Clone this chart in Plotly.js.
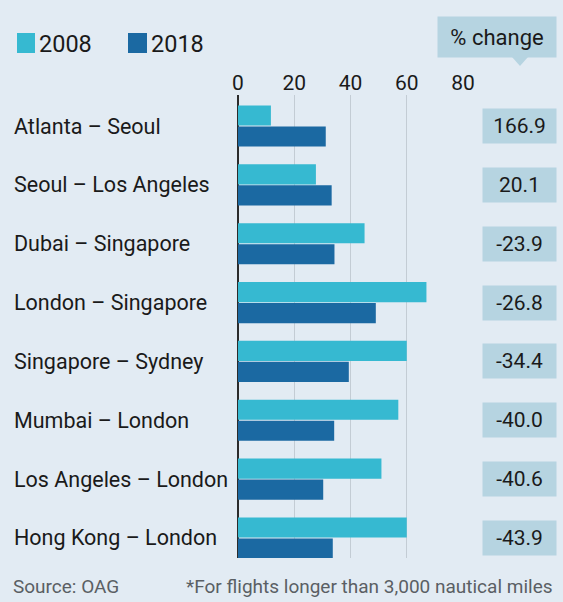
<!DOCTYPE html>
<html>
<head>
<meta charset="utf-8">
<script src="https://cdn.plot.ly/plotly-3.0.1.min.js"></script>
<style>html,body{margin:0;padding:0;background:#e2ebf3;}#chart{width:563px;height:602px;}</style>
</head>
<body>
<div id="chart"></div>
<script>
// ---- data ----
var routes = ["Atlanta – Seoul", "Seoul – Los Angeles", "Dubai – Singapore", "London – Singapore",
              "Singapore – Sydney", "Mumbai – London", "Los Angeles – London", "Hong Kong – London"];
var seats2008 = [11.7, 27.7, 45.0, 67.0, 60.0, 57.0, 51.0, 60.0];
var seats2018 = [31.2, 33.3, 34.3, 49.0, 39.4, 34.2, 30.3, 33.7];
var pctChange = ["166.9", "20.1", "-23.9", "-26.8", "-34.4", "-40.0", "-40.6", "-43.9"];
var seriesNames = ["2008", "2018"];
var xTicks = [0, 20, 40, 60, 80];
var pctTitle = "% change";
var sourceText = "Source: OAG";
var noteText = "*For flights longer than 3,000 nautical miles";

// ---- style ----
var W = 563, H = 602;
var FONT = "Roboto, sans-serif";
var c2008 = "#36b9d1", c2018 = "#1b69a2", boxC = "#b6d4e1", bg = "#e2ebf3";
function px(x){ return x / W; }
function py(y){ return 1 - y / H; }

var traces = [
  {type: "bar", orientation: "h", name: seriesNames[0], y: routes, x: seats2008,
   marker: {color: c2008}, hoverinfo: "x+name"},
  {type: "bar", orientation: "h", name: seriesNames[1], y: routes, x: seats2018,
   marker: {color: c2018}, hoverinfo: "x+name"}
];

var annotations = [];
routes.forEach(function(r, i){
  annotations.push({xref: "paper", yref: "y", x: px(12), y: r, xanchor: "left", yanchor: "middle",
    text: r, showarrow: false, font: {family: FONT, size: 21.5, color: "#1a1a1a"}});
  annotations.push({xref: "paper", yref: "y", x: px(519.5), y: r, xanchor: "center", yanchor: "middle",
    text: pctChange[i], showarrow: false, width: 73, height: 34, borderpad: 0, bgcolor: boxC,
    font: {family: FONT, size: 21, color: "#1a1a1a"}});
});
// % change header
annotations.push({xref: "paper", yref: "paper", x: px(497), y: py(37), xanchor: "center", yanchor: "middle",
  text: pctTitle, showarrow: false, width: 118, height: 40, borderpad: 0, bgcolor: boxC,
  font: {family: FONT, size: 22, color: "#1a1a1a"}});
// legend labels
annotations.push({xref: "paper", yref: "paper", x: px(37), y: py(44), xanchor: "left", yanchor: "middle",
  text: seriesNames[0], showarrow: false, font: {family: FONT, size: 23.5, color: "#1a1a1a"}});
annotations.push({xref: "paper", yref: "paper", x: px(149), y: py(44), xanchor: "left", yanchor: "middle",
  text: seriesNames[1], showarrow: false, font: {family: FONT, size: 23.5, color: "#1a1a1a"}});
// footer
annotations.push({xref: "paper", yref: "paper", x: px(11), y: py(586), xanchor: "left", yanchor: "middle",
  text: sourceText, showarrow: false, font: {family: FONT, size: 19, color: "#5a5f64"}});
annotations.push({xref: "paper", yref: "paper", x: px(555), y: py(586), xanchor: "right", yanchor: "middle",
  text: noteText, showarrow: false, font: {family: FONT, size: 19, color: "#5a5f64"}});

var shapes = [
  {type: "rect", xref: "paper", yref: "paper", x0: px(17), x1: px(35), y0: py(33), y1: py(53),
   fillcolor: c2008, line: {width: 0}},
  {type: "rect", xref: "paper", yref: "paper", x0: px(128), x1: px(147), y0: py(33), y1: py(53),
   fillcolor: c2018, line: {width: 0}},
  {type: "path", xref: "paper", yref: "paper",
   path: "M " + px(512) + "," + py(57) + " L " + px(528) + "," + py(57) + " L " + px(520) + "," + py(66) + " Z",
   fillcolor: boxC, line: {width: 0}}
];

var layout = {
  width: W, height: H,
  paper_bgcolor: bg, plot_bgcolor: bg,
  margin: {l: 0, r: 0, t: 0, b: 0},
  showlegend: false,
  barmode: "group", bargap: 0.286, bargroupgap: 0.04,
  font: {family: FONT, color: "#1a1a1a"},
  xaxis: {domain: [238 / W, 463 / W], range: [0, 80], side: "top", tickvals: xTicks,
    ticktext: xTicks.map(String), ticks: "", showgrid: true, gridcolor: "#c3ccd4", gridwidth: 1,
    zeroline: true, zerolinecolor: "#2b2b2b", zerolinewidth: 2, showline: false,
    tickfont: {family: FONT, size: 21, color: "#1a1a1a"}, fixedrange: true},
  yaxis: {domain: [(H - 558) / H, (H - 95) / H], type: "category", categoryorder: "array",
    categoryarray: routes, range: [7.34, -0.527], showticklabels: false, ticks: "",
    showgrid: false, zeroline: false, showline: false, fixedrange: true},
  annotations: annotations,
  shapes: shapes
};

Plotly.newPlot("chart", traces, layout, {displayModeBar: false, staticPlot: true});
</script>
</body>
</html>
